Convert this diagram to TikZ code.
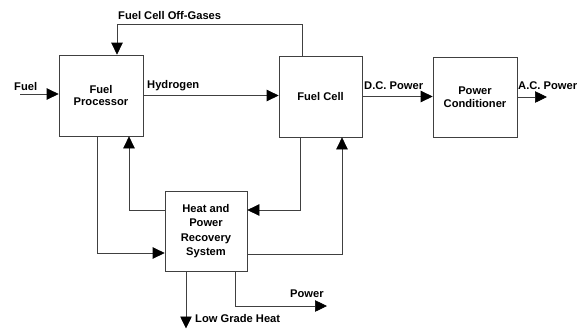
\documentclass[tikz,border=0pt]{standalone}
\usepackage{fontspec}
\setmainfont{Liberation Sans}
\usetikzlibrary{arrows.meta}

\begin{document}
\begin{tikzpicture}[x=1bp, y=-1bp, every node/.style={font=\fontsize{11.2}{12.5}\selectfont\bfseries},
	>={Triangle[length=12bp, width=11.5bp, black]},
	box/.style={draw=black!75, line width=0.7bp, align=center, inner sep=0pt},
	flow/.style={->, draw=black!75, line width=0.7bp},
	lbl/.style={anchor=base west, inner sep=0pt}]
	\useasboundingbox (0,0) rectangle (577,329);
	% blocks
	\node[box, minimum width=84bp, minimum height=81bp] (proc) at (101,95.5) {Fuel\\Processor};
	\node[box, minimum width=83bp, minimum height=81bp] (cell) at (320.5,96.5) {Fuel Cell};
	\node[box, minimum width=84bp, minimum height=80bp] (cond) at (475,97) {Power\\Conditioner};
	\node[box, minimum width=82bp, minimum height=80bp,
		font=\fontsize{11.2}{14.5}\selectfont\bfseries] (heat) at (206,231) {Heat and\\Power\\Recovery\\System};
	% free ends and corners
	\coordinate (fuelin) at (20,94);
	\coordinate (offA) at (302,24);
	\coordinate (offB) at (117,24);
	\coordinate (acout) at (547,97);
	\coordinate (l1) at (97,253);
	\coordinate (l2) at (129,210);
	\coordinate (r1) at (300,210);
	\coordinate (r2) at (342,254);
	\coordinate (lowheat) at (186,328.5);
	\coordinate (p0) at (235,306);
	\coordinate (pwrout) at (327,306);
	% main line
	\draw[flow] (fuelin) -- (proc.west |- fuelin);
	\draw[flow] (proc.east) -- (cell.west |- proc.east);
	\draw[flow] (cell.east) -- (cond.west |- cell.east);
	\draw[flow] (cond.east) -- (acout);
	\draw[flow] (cell.north -| offA) -- (offA) -- (offB) -- (proc.north -| offB);
	% heat and power recovery loops
	\draw[flow] (proc.south -| l1) |- (heat.west |- l1);
	\draw[flow] (heat.west |- l2) -| (proc.south -| l2);
	\draw[flow] (cell.south -| r1) |- (heat.east |- r1);
	\draw[flow] (heat.east |- r2) -| (cell.south -| r2);
	\draw[flow] (heat.south -| lowheat) -- (lowheat);
	\draw[flow] (heat.south -| p0) |- (pwrout);
	% labels
	\node[lbl] (tfuel) at (14,90) {Fuel};
	\node[lbl] (thyd) at (147,88) {Hydrogen};
	\node[lbl] (toff) at (118,19.5) {Fuel Cell Off-Gases};
	\node[lbl] (tdc) at (364,89) {D.C. Power};
	\node[lbl] (tac) at (518,89) {A.C. Power};
	\node[lbl] (tpwr) at (290,297) {Power};
	\node[lbl] (tlow) at (195,322) {Low Grade Heat};
\end{tikzpicture}
\end{document}
